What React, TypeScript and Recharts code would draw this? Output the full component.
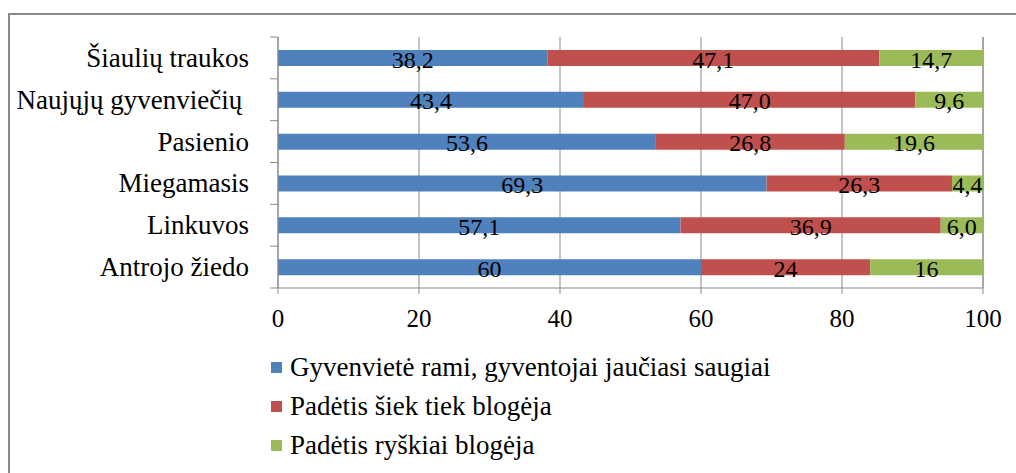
import React from 'react';
import { BarChart, Bar, XAxis, YAxis, CartesianGrid, LabelList } from 'recharts';

// kategorijos ir reikšmės (%)
const CATEGORIES = [
  'Šiaulių traukos',
  'Naujųjų gyvenviečių ',
  'Pasienio',
  'Miegamasis',
  'Linkuvos',
  'Antrojo žiedo',
];
const CALM = [38.2, 43.4, 53.6, 69.3, 57.1, 60];
const SLIGHTLY_WORSE = [47.1, 47.0, 26.8, 26.3, 36.9, 24];
const MUCH_WORSE = [14.7, 9.6, 19.6, 4.4, 6.0, 16];
const DECIMALS = [1, 1, 1, 1, 1, 0];
const X_TICKS = [0, 20, 40, 60, 80, 100];

const SERIES = [
  { key: 'calm', name: 'Gyvenvietė rami, gyventojai jaučiasi saugiai', color: '#4F81BD' },
  { key: 'slight', name: 'Padėtis šiek tiek blogėja', color: '#C0504D' },
  { key: 'much', name: 'Padėtis ryškiai blogėja', color: '#9BBB59' },
];

const FONT = "'Liberation Serif', Tinos, 'DejaVu Serif', serif";
const AXIS_GRAY = '#898989';

const fmt = (v: number, d: number) => v.toFixed(d).replace('.', ',');

const data = CATEGORIES.map((name, i) => ({
  name,
  calm: CALM[i],
  slight: SLIGHTLY_WORSE[i],
  much: MUCH_WORSE[i],
  calmLabel: fmt(CALM[i], DECIMALS[i]),
  slightLabel: fmt(SLIGHTLY_WORSE[i], DECIMALS[i]),
  muchLabel: fmt(MUCH_WORSE[i], DECIMALS[i]),
}));

function CategoryTick(props: any) {
  const { x, y, payload, index } = props;
  const half = payload && payload.offset ? payload.offset : 21;
  return (
    <g>
      <line x1={x - 8} x2={x} y1={y - half} y2={y - half} stroke={AXIS_GRAY} />
      {index === CATEGORIES.length - 1 && (
        <line x1={x - 8} x2={x} y1={y + half} y2={y + half} stroke={AXIS_GRAY} />
      )}
      <text
        x={x - 29}
        y={y}
        dy={9}
        textAnchor="end"
        fontSize={27}
        style={{ fontFamily: FONT, whiteSpace: 'pre' }}
        fill="#000"
      >
        {payload.value}
      </text>
    </g>
  );
}

export default function App() {
  return (
    <div style={{ position: 'absolute', left: 0, top: 0, width: 1016, height: 473, overflow: 'hidden', background: '#fff', fontFamily: FONT }}>
      {/* rėmelis */}
      <div
        style={{
          position: 'absolute',
          left: 8,
          top: 13,
          width: 1040,
          height: 500,
          border: `2px solid ${AXIS_GRAY}`,
        }}
      />
      <div style={{ position: 'absolute', left: 0, top: 0 }}>
        <BarChart
          width={1016}
          height={473}
          data={data}
          layout="vertical"
          margin={{ top: 37, right: 33, bottom: 145, left: 0 }}
          barSize={16}
          style={{ fontFamily: FONT }}
        >
          <CartesianGrid horizontal={false} stroke={AXIS_GRAY} />
          <XAxis
            type="number"
            domain={[0, 100]}
            ticks={X_TICKS}
            height={40}
            stroke={AXIS_GRAY}
            tickSize={6}
            tickMargin={15}
            tick={{ fontSize: 25, fill: '#000', style: { fontFamily: FONT } }}
          />
          <YAxis
            type="category"
            dataKey="name"
            width={278}
            stroke={AXIS_GRAY}
            tickLine={false}
            tickSize={0}
            tickMargin={0}
            tick={<CategoryTick />}
            interval={0}
          />
          {SERIES.map(s => (
            <Bar key={s.key} dataKey={s.key} name={s.name} stackId="a" fill={s.color} isAnimationActive={false}>
              <LabelList
                dataKey={`${s.key}Label`}
                position="center"
                fill="#000"
                fontSize={24}
                dy={1}
                style={{ fontFamily: FONT }}
              />
            </Bar>
          ))}
        </BarChart>
      </div>
      {/* legenda */}
      <div style={{ position: 'absolute', left: 271, top: 348, fontSize: 27, color: '#000' }}>
        {SERIES.map(s => (
          <div key={s.key} style={{ display: 'flex', alignItems: 'center', height: 39 }}>
            <span style={{ display: 'inline-block', width: 11, height: 11, background: s.color, marginRight: 8 }} />
            <span>{s.name}</span>
          </div>
        ))}
      </div>
    </div>
  );
}
